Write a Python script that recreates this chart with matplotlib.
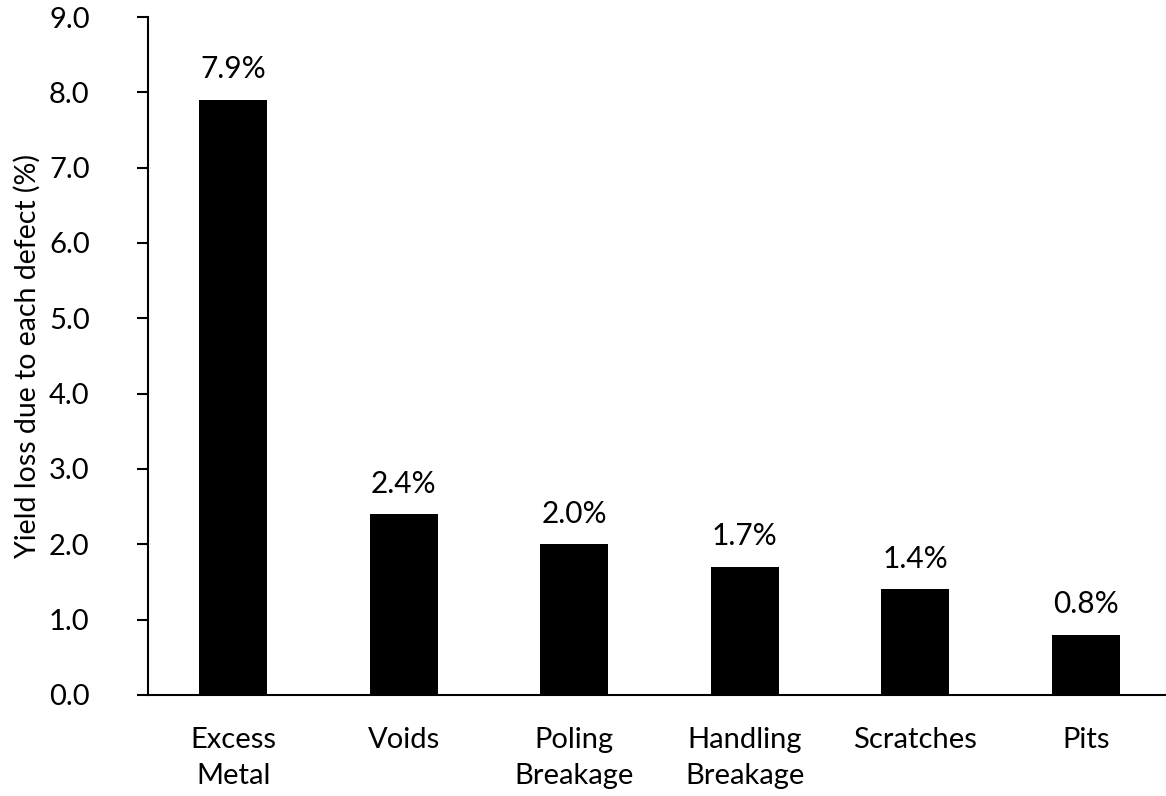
import matplotlib
matplotlib.use("Agg")
import matplotlib.pyplot as plt

categories = ["Excess\nMetal", "Voids", "Poling\nBreakage", "Handling\nBreakage", "Scratches", "Pits"]
values = [7.9, 2.4, 2.0, 1.7, 1.4, 0.8]
labels = ["7.9%", "2.4%", "2.0%", "1.7%", "1.4%", "0.8%"]
yticks = [0.0, 1.0, 2.0, 3.0, 4.0, 5.0, 6.0, 7.0, 8.0, 9.0]

plt.rcParams['font.family'] = ['Lato', 'DejaVu Sans']

fig = plt.figure(figsize=(11.66, 7.96), dpi=100)
ax = fig.add_axes([0.127, 0.127, 0.873, 0.8516])
x = list(range(len(categories)))
bars = ax.bar(x, values, width=0.4, color='black')
for xi, v, lab in zip(x, values, labels):
    ax.text(xi, v + 0.22, lab, ha='center', va='bottom', fontsize=21.5)

ax.set_xlim(-0.5, 5.47)
ax.set_ylim(0, 9)
ax.set_yticks(yticks)
ax.set_yticklabels([f"{t:.1f}" for t in yticks], fontsize=21)
ax.set_xticks(x)
ax.set_xticklabels(categories, fontsize=21, linespacing=1.5)
ax.tick_params(axis='x', length=0, pad=23)
ax.tick_params(axis='y', length=8, width=1.5, direction='out', pad=34)
ax.spines['top'].set_visible(False)
ax.spines['right'].set_visible(False)
ax.spines['left'].set_linewidth(1.5)
ax.spines['bottom'].set_linewidth(1.5)
ax.set_ylabel("Yield loss due to each defect (%)", fontsize=20.5, labelpad=6)

fig.savefig("out.png", dpi=100)
